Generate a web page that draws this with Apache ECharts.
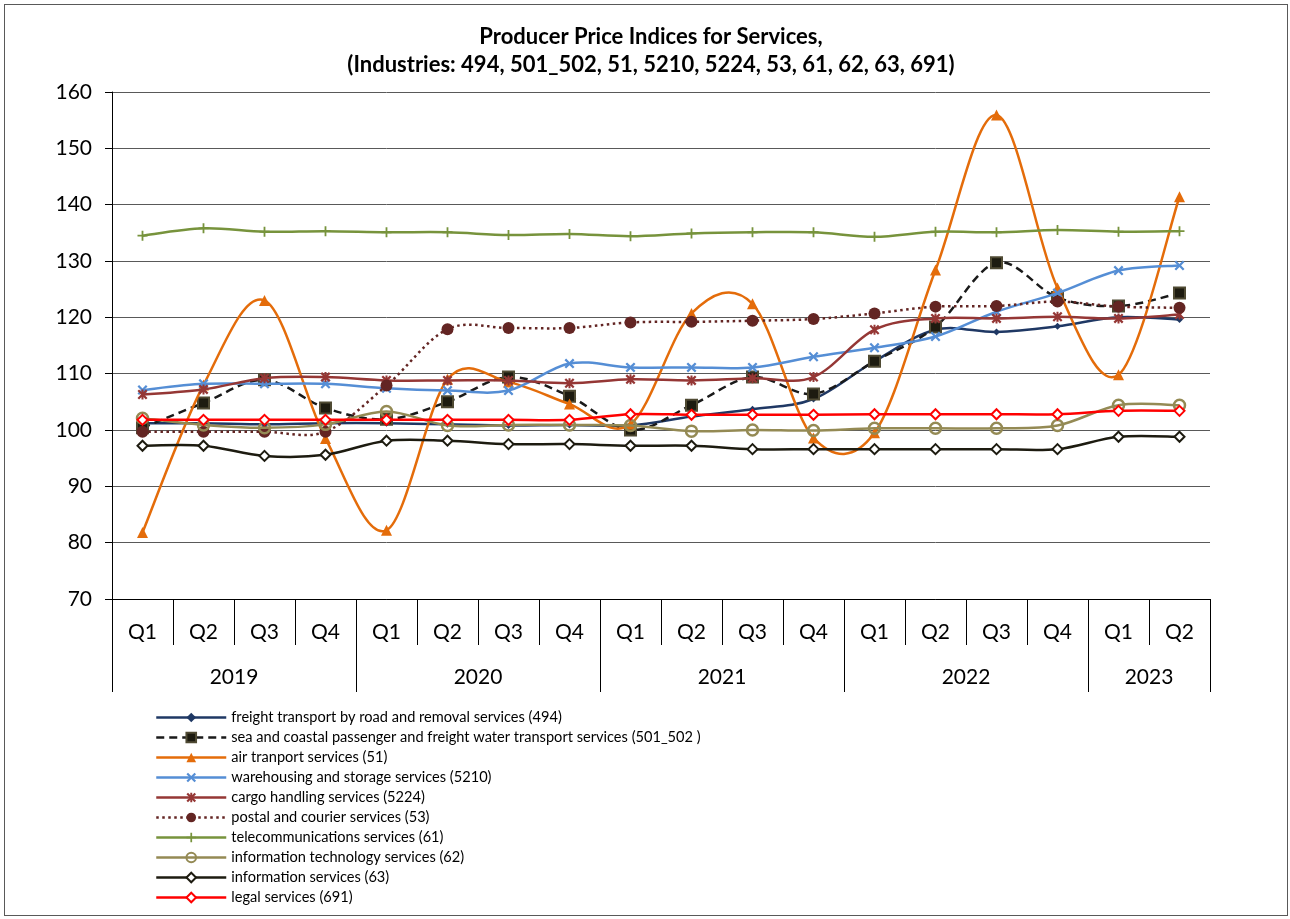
<!DOCTYPE html>
<html>
<head>
<meta charset="utf-8">
<script src="https://cdn.jsdelivr.net/npm/echarts@6/dist/echarts.min.js"></script>
<style>
  html, body { margin: 0; padding: 0; background: #fff; }
  #chart { width: 1290px; height: 919px; position: absolute; left: 0; top: 0; }
  #frame { position: absolute; left: 4px; top: 4px; width: 1282px; height: 910px; border: 1px solid #595959; pointer-events: none; }
</style>
</head>
<body>
<div id="chart"></div>
<div id="frame"></div>
<script>
const quarters = ['Q1','Q2','Q3','Q4','Q1','Q2','Q3','Q4','Q1','Q2','Q3','Q4','Q1','Q2','Q3','Q4','Q1','Q2'];
const years = ['2019','2020','2021','2022','2023'];
const quartersPerYear = [4,4,4,4,2];

const seriesNames = [
  'freight transport by road and removal services (494)',
  'sea and coastal passenger and freight water transport services (501_502 )',
  'air tranport services (51)',
  'warehousing and storage services (5210)',
  'cargo handling services (5224)',
  'postal and courier services (53)',
  'telecommunications services (61)',
  'information technology services (62)',
  'information services (63)',
  'legal services (691)'
];

const freight494 = [101.2,101.2,101.0,101.2, 101.2,101.0,100.8,100.9, 100.8,102.4,103.7,105.5, 112.2,117.8,117.4,118.4, 120.0,119.6];
const sea501_502 = [100.4,104.8,108.9,103.9, 101.9,105.0,109.4,106.0, 100.0,104.4,109.4,106.4, 112.2,118.3,129.7,123.5, 122.0,124.3];
const air51 = [81.8,108.0,123.0,98.5, 82.2,109.0,108.5,104.6, 101.0,120.7,122.4,98.6, 99.5,128.4,155.9,125.2, 109.8,141.4];
const warehousing5210 = [107.1,108.2,108.2,108.2, 107.4,107.0,107.0,111.8, 111.1,111.1,111.1,113.0, 114.6,116.6,121.0,124.3, 128.3,129.2];
const cargo5224 = [106.3,107.2,109.2,109.4, 108.8,108.8,108.8,108.3, 109.0,108.8,109.2,109.4, 117.8,119.8,119.8,120.1, 119.8,120.5];
const postal53 = [99.7,99.7,99.7,99.7, 107.9,117.9,118.1,118.1, 119.1,119.2,119.4,119.7, 120.7,121.9,122.0,122.8, 121.9,121.7];
const telecom61 = [134.5,135.8,135.2,135.3, 135.1,135.1,134.6,134.8, 134.4,134.9,135.1,135.1, 134.3,135.2,135.1,135.5, 135.2,135.3];
const infotech62 = [102.1,100.9,100.4,101.0, 103.3,100.8,100.9,100.9, 100.8,99.8,100.0,99.9, 100.3,100.3,100.3,100.8, 104.4,104.4];
const info63 = [97.2,97.2,95.4,95.6, 98.1,98.1,97.5,97.5, 97.2,97.2,96.6,96.6, 96.6,96.6,96.6,96.6, 98.8,98.8];
const legal691 = [101.8,101.8,101.8,101.8, 101.8,101.8,101.8,101.8, 102.8,102.7,102.7,102.7, 102.8,102.8,102.8,102.8, 103.4,103.4];

const yTicks = { min: 70, max: 160, step: 10 };

// year grouping positions on the secondary axis
const yearBounds = [0];
const yearCenters = [];
{
  let acc = 0;
  quartersPerYear.forEach(c => { yearCenters.push(acc + c / 2); acc += c; yearBounds.push(acc); });
}

const FONT = 'Lato';
const X_PATH = 'path://M1.6,0 L5,3.4 L8.4,0 L10,1.6 L6.6,5 L10,8.4 L8.4,10 L5,6.6 L1.6,10 L0,8.4 L3.4,5 L0,1.6 Z';
const PLUS_PATH = 'path://M4.1,0 L5.9,0 L5.9,4.1 L10,4.1 L10,5.9 L5.9,5.9 L5.9,10 L4.1,10 L4.1,5.9 L0,5.9 L0,4.1 L4.1,4.1 Z';
const STAR_PATH = 'path://M1.6,0 L5,3.4 L8.4,0 L10,1.6 L6.6,5 L10,8.4 L8.4,10 L5,6.6 L1.6,10 L0,8.4 L3.4,5 L0,1.6 Z M4,0 L6,0 L6,10 L4,10 Z';

const LINE_W = 2.5;

// Spreadsheet-style smoothed curve (Catmull-Rom through the library's own coordinates)
function curve(k, arr, color, dash) {
  return {
    type: 'custom', name: '_curve_' + k,
    coordinateSystem: 'cartesian2d', xAxisIndex: 0, yAxisIndex: 0,
    data: arr.map((v, i) => [i, v]),
    encode: { x: 0, y: 1 },
    z: 2 + 2 * k, silent: true,
    renderItem(params, api) {
      if (params.dataIndex !== 0) return null;
      const n = arr.length;
      const P = arr.map((v, i) => api.coord([i, v]));
      let d = 'M' + P[0][0] + ',' + P[0][1];
      for (let i = 0; i < n - 1; i++) {
        const p0 = P[Math.max(i - 1, 0)], p1 = P[i], p2 = P[i + 1], p3 = P[Math.min(i + 2, n - 1)];
        const c1x = p1[0] + (p2[0] - p0[0]) / 6, c1y = p1[1] + (p2[1] - p0[1]) / 6;
        const c2x = p2[0] - (p3[0] - p1[0]) / 6, c2y = p2[1] - (p3[1] - p1[1]) / 6;
        d += ' C' + c1x + ',' + c1y + ' ' + c2x + ',' + c2y + ' ' + p2[0] + ',' + p2[1];
      }
      return {
        type: 'path',
        shape: { pathData: d },
        style: { fill: 'none', stroke: color, lineWidth: LINE_W, lineDash: dash || null, lineCap: 'butt', lineJoin: 'round' }
      };
    }
  };
}

// Marker series (line hidden; curve drawn by the custom series above)
function markers(k, arr, color, lineType, symbol, symbolSize, itemStyle) {
  return {
    name: seriesNames[k], type: 'line', data: arr,
    xAxisIndex: 0, yAxisIndex: 0,
    z: 3 + 2 * k,
    symbol, symbolSize, showSymbol: true,
    lineStyle: { color, width: LINE_W, type: lineType, opacity: 0 },
    itemStyle: Object.assign({ color }, itemStyle || {}),
    emphasis: { disabled: true }
  };
}

const defs = [
  [freight494, '#1F3864', 'solid', null, 'diamond', 7],
  [sea501_502, '#1a1a1a', [8, 5], [8, 5], 'rect', 11, { color: '#1d1b10', borderColor: '#4F4A33', borderWidth: 2 }],
  [air51, '#E46C0A', 'solid', null, 'triangle', 11],
  [warehousing5210, '#558ED5', 'solid', null, X_PATH, 10],
  [cargo5224, '#953735', 'solid', null, STAR_PATH, 10],
  [postal53, '#632523', [2.5, 3.5], [2.5, 3.5], 'circle', 12],
  [telecom61, '#77933C', 'solid', null, PLUS_PATH, 10],
  [infotech62, '#948A54', 'solid', null, 'circle', 11, { color: 'rgba(255,255,255,0)', borderColor: '#948A54', borderWidth: 2.5 }],
  [info63, '#1D1B10', 'solid', null, 'emptyDiamond', 10, { borderColor: '#1D1B10', borderWidth: 2.5 }],
  [legal691, '#FF0000', 'solid', null, 'emptyDiamond', 10, { borderColor: '#FF0000', borderWidth: 2.5 }]
];

const series = [];
defs.forEach((d, k) => { series.push(markers(k, d[0], d[1], d[2], d[4], d[5], d[6])); });
defs.forEach((d, k) => { series.push(curve(k, d[0], d[1], d[3])); });

const chart = echarts.init(document.getElementById('chart'), null, { renderer: 'canvas' });
chart.setOption({
  animation: false,
  backgroundColor: '#fff',
  textStyle: { fontFamily: FONT },
  title: {
    text: 'Producer Price Indices for Services,\n(Industries: 494, 501_502, 51, 5210, 5224, 53, 61, 62, 63, 691)',
    left: 646, top: 18, textAlign: 'center',
    textStyle: { fontFamily: FONT, fontWeight: 'bold', fontSize: 22, lineHeight: 28, color: '#000' }
  },
  grid: { left: 112, top: 92, right: 80, bottom: 320, containLabel: false },
  legend: {
    orient: 'vertical', left: 150, top: 705,
    itemWidth: 70, itemHeight: 12, itemGap: 5,
    data: seriesNames,
    lineStyle: { opacity: 1, width: LINE_W },
    textStyle: { fontFamily: FONT, fontSize: 14.6, lineHeight: 14, color: '#000' }
  },
  xAxis: [
    {
      type: 'category', data: quarters, position: 'bottom', boundaryGap: true,
      axisLine: { show: true, lineStyle: { color: '#000', width: 1 } },
      axisTick: { show: true, interval: 0, length: 46, lineStyle: { color: '#000', width: 1 } },
      axisLabel: { interval: 0, fontFamily: FONT, fontSize: 21, color: '#000', margin: 23 },
      splitLine: { show: false }
    },
    {
      type: 'value', min: 0, max: yearBounds[yearBounds.length - 1], position: 'bottom', offset: 46,
      axisLine: { show: false },
      axisTick: { show: true, customValues: yearBounds, length: 47, lineStyle: { color: '#000', width: 1 } },
      axisLabel: {
        customValues: yearCenters, fontFamily: FONT, fontSize: 21, color: '#000', margin: 22,
        formatter: v => years[yearCenters.indexOf(Number(v))] || ''
      },
      splitLine: { show: false }
    }
  ],
  yAxis: {
    type: 'value', min: yTicks.min, max: yTicks.max, interval: yTicks.step,
    axisLine: { show: true, lineStyle: { color: '#000', width: 1 } },
    axisTick: { show: true, length: 7, lineStyle: { color: '#000' } },
    axisLabel: { fontFamily: FONT, fontSize: 21, color: '#000', margin: 20 },
    splitLine: { show: true, lineStyle: { color: '#595959', width: 1 } }
  },
  series
});
</script>
</body>
</html>
